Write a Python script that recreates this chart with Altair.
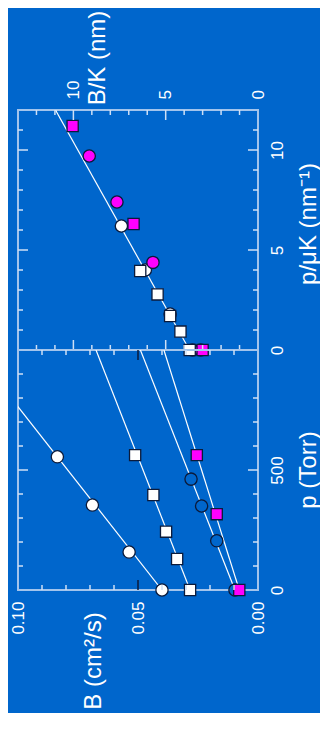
import altair as alt
import pandas as pd

BG = "#0066cc"
FRAME = "#a3c4ec"
TICK = "#cfe0f6"
DARK = "#0b1a3a"
MAG = "#ff00ff"
FONT = "Liberation Sans"

# ---------------- lower panel: B (cm^2/s) vs p (Torr) ----------------
wc_p = [0, 158, 354, 555]
wc_B = [0.040, 0.0537, 0.069, 0.0836]
ws_p = [0, 129, 243, 396, 562]
ws_B = [0.0283, 0.0337, 0.0383, 0.0436, 0.0512]
dc_p = [0, 205, 350, 462]
dc_B = [0.0096, 0.0172, 0.0235, 0.0279]
ms_p = [0, 316, 562]
ms_B = [0.0078, 0.0172, 0.0255]
fit_p = [0, 1000]
fit_wc = [0.040, 0.1186]
fit_ws = [0.0283, 0.0675]
fit_dc = [0.0096, 0.0490]
fit_ms = [0.0078, 0.0392]

# ---------------- upper panel: B/K (nm) vs p/uK (nm^-1) ----------------
u_wc_x = [0, 1.8, 4.0, 6.2]
u_wc_y = [3.55, 4.76, 6.1, 7.4]
u_ws_x = [0, 0.92, 1.7, 2.78, 3.95]
u_ws_y = [3.7, 4.2, 4.76, 5.44, 6.38]
u_mc_x = [0, 4.38, 7.4, 9.7]
u_mc_y = [3.1, 5.69, 7.64, 9.14]
u_ms_x = [0, 6.3, 11.2]
u_ms_y = [3.0, 6.74, 10.04]
u_fit_x = [0, 12]
u_fit_y = [3.71, 10.97]

# axis titles
t_upper_h = ["B/K (nm)"]
t_upper_v = ["p/μK (nm⁻¹)"]
t_lower_h = ["B (cm²/s)"]
t_lower_v = ["p (Torr)"]

# tick values
u_minor = [1, 2, 3, 4, 6, 7, 8, 9, 11, 12]
u_major = [5, 10]
u_minor_y = [1, 2, 3, 4, 6, 7, 8, 9, 11]
l_minor_B = [0.01, 0.02, 0.03, 0.04, 0.06, 0.07, 0.08, 0.09]
l_dark_B = [0.05]
l_minor_p = [100, 200, 300, 400, 600, 700, 800, 900]
l_major_p = [500]

W = 240
H = 240
TFS = 24


def title_layer(txt, x, y):
    return (alt.Chart(pd.DataFrame({"t": txt}))
            .mark_text(angle=270, align="center", baseline="middle", font=FONT,
                       fontSize=TFS, color="white")
            .encode(text="t:N", x=alt.value(x), y=alt.value(y)))


def panel(sx, sy, axx, axy, lines, points, hticks, vticks, titles):
    X = lambda: alt.X("h:Q", scale=sx, axis=axx)
    Y = lambda: alt.Y("v:Q", scale=sy, axis=axy)
    layers = []
    for xs, ys in lines:
        df = pd.DataFrame({"h": ys, "v": xs})
        layers.append(alt.Chart(df).mark_line(color="white", strokeWidth=1.2, clip=True)
                      .encode(x=X(), y=Y()))
    for xs, ys, shape, fill, size in points:
        df = pd.DataFrame({"h": ys, "v": xs})
        layers.append(alt.Chart(df).mark_point(shape=shape, filled=True, fill=fill, stroke=DARK,
                                               strokeWidth=1.3, size=size, opacity=1)
                      .encode(x=X(), y=Y()))
    for vals, ln, col in hticks:
        df = pd.DataFrame({"h": vals})
        layers.append(alt.Chart(df).mark_rule(color=col, strokeWidth=1.5)
                      .encode(x=X(), y=alt.value(0), y2=alt.value(ln)))
        layers.append(alt.Chart(df).mark_rule(color=col, strokeWidth=1.5)
                      .encode(x=X(), y=alt.value(H), y2=alt.value(H - ln)))
    for vals, ln in vticks:
        df = pd.DataFrame({"v": vals})
        layers.append(alt.Chart(df).mark_rule(color=TICK, strokeWidth=1.5)
                      .encode(y=Y(), x=alt.value(0), x2=alt.value(ln)))
        layers.append(alt.Chart(df).mark_rule(color=TICK, strokeWidth=1.5)
                      .encode(y=Y(), x=alt.value(W), x2=alt.value(W - ln)))
    for txt, x, y in titles:
        layers.append(title_layer(txt, x, y))
    return alt.layer(*layers).properties(width=W, height=H)


common = dict(ticks=False, tickSize=0, domain=False, grid=False, title=None)

# upper
sx_u = alt.Scale(domain=[0, 13], reverse=True, nice=False, zero=False)
sy_u = alt.Scale(domain=[0, 12], nice=False, zero=False)
ax_u_x = alt.Axis(orient="top", values=[0, 5, 10], labelAngle=270, labelAlign="left",
                  labelBaseline="middle", labelPadding=11, **common)
ax_u_y = alt.Axis(orient="right", values=[0, 5, 10], labelAngle=270, labelAlign="center",
                  labelBaseline="top", labelPadding=11, **common)
upper = panel(
    sx_u, sy_u, ax_u_x, ax_u_y,
    [(u_fit_x, u_fit_y)],
    [(u_wc_x, u_wc_y, "circle", "white", 150),
     (u_mc_x, u_mc_y, "circle", MAG, 150),
     (u_ws_x, u_ws_y, "square", "white", 125),
     (u_ms_x, u_ms_y, "square", MAG, 125)],
    [(u_minor, 5, TICK), (u_major, 10, TICK)],
    [(u_minor_y, 5), (u_major, 10)],
    [(t_upper_h, 80, -52), (t_upper_v, 291, 114)],
)

# lower
sx_l = alt.Scale(domain=[0, 0.1], reverse=True, nice=False, zero=False)
sy_l = alt.Scale(domain=[0, 1000], nice=False, zero=False)
ax_l_x = alt.Axis(orient="bottom", values=[0, 0.05, 0.1], format=".2f", labelAngle=270,
                  labelAlign="right", labelBaseline="middle", labelPadding=11, **common)
ax_l_y = alt.Axis(orient="right", values=[0, 500], labelAngle=270, labelAlign="center",
                  labelBaseline="top", labelPadding=11, **common)
lower = panel(
    sx_l, sy_l, ax_l_x, ax_l_y,
    [(fit_p, fit_wc), (fit_p, fit_ws), (fit_p, fit_dc), (fit_p, fit_ms)],
    [(wc_p, wc_B, "circle", "white", 150),
     (dc_p, dc_B, "circle", BG, 150),
     (ws_p, ws_B, "square", "white", 125),
     (ms_p, ms_B, "square", MAG, 125)],
    [(l_minor_B, 5, TICK), (l_dark_B, 10, DARK)],
    [(l_minor_p, 5), (l_major_p, 10)],
    [(t_lower_h, 76, 311), (t_lower_v, 291, 120)],
)

chart = (
    alt.vconcat(upper, lower, spacing=0, bounds="flush")
    .properties(background=BG,
                autosize=alt.AutoSizeParams(type="none"),
                padding={"left": 10, "top": 102, "right": 62, "bottom": 603})
    .configure_view(stroke=FRAME, strokeWidth=2)
    .configure_axis(labelFont=FONT, labelFontSize=17, labelColor="white")
)

chart.save("out.html", embed_options={"renderer": "svg", "actions": False})
